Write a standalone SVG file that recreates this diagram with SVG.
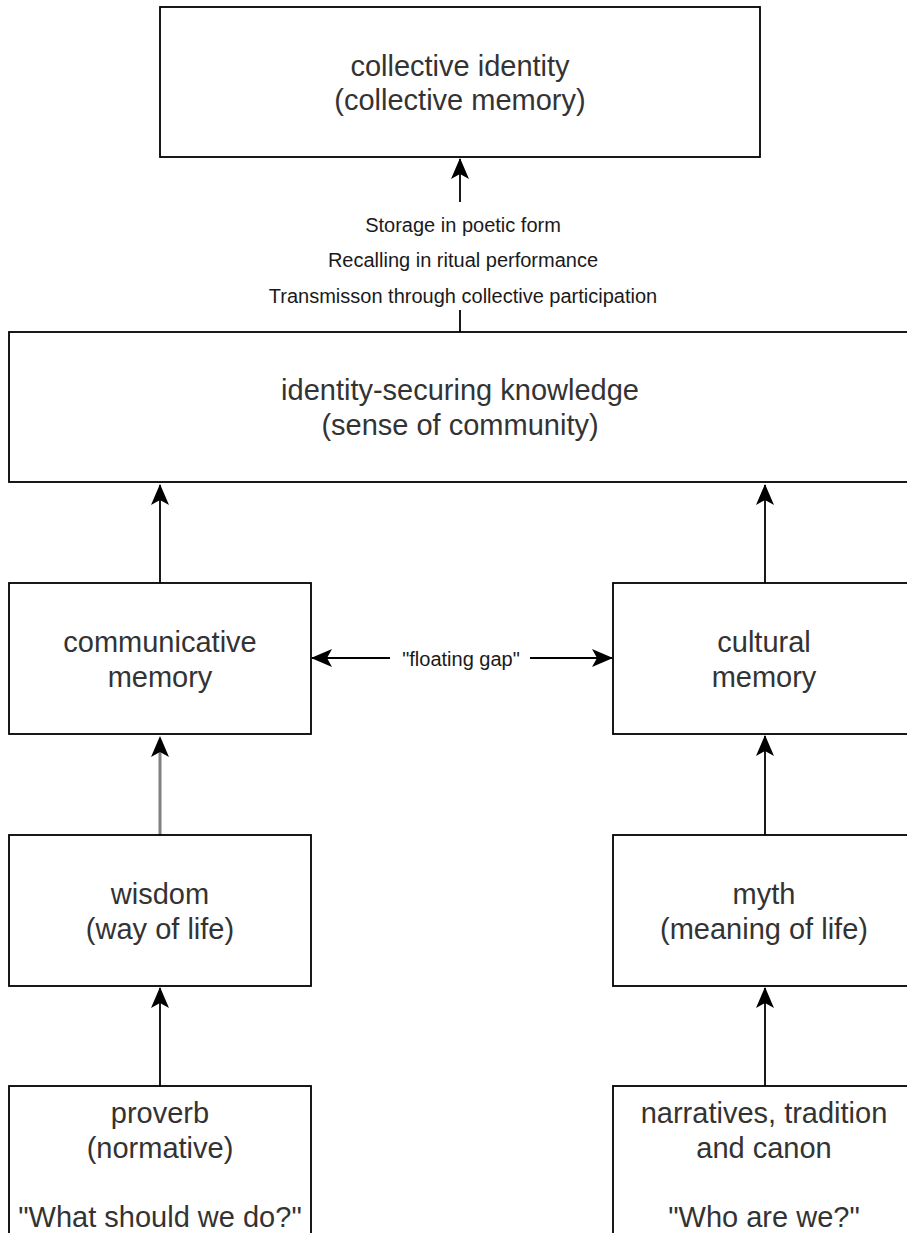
<svg xmlns="http://www.w3.org/2000/svg" width="907" height="1233" viewBox="0 0 907 1233">
  <defs>
    <style>
      .box { fill: #ffffff; stroke: #000000; stroke-width: 1.8; }
      .t { font-family: "Liberation Sans", Arial, sans-serif; font-size: 29px; fill: #333333; text-anchor: middle; }
      .s { font-family: "Liberation Sans", Arial, sans-serif; font-size: 20px; fill: #1a1a1a; text-anchor: middle; }
      .edge { fill: none; stroke: #000000; stroke-width: 1.8; }
      .edge-grey { fill: none; stroke: #808080; stroke-width: 3; }
    </style>
    <marker id="arrow" markerUnits="userSpaceOnUse" markerWidth="22" markerHeight="18" refX="20" refY="9" orient="auto" viewBox="0 0 22 18">
      <path d="M0,0 L21,9 L0,18 L5,9 Z" fill="#000000"/>
    </marker>
    <marker id="arrow-start" markerUnits="userSpaceOnUse" markerWidth="22" markerHeight="18" refX="2" refY="9" orient="auto" viewBox="0 0 22 18">
      <path d="M22,0 L1,9 L22,18 L17,9 Z" fill="#000000"/>
    </marker>
  </defs>
  <rect width="907" height="1233" fill="#ffffff"/>

  <g id="connectors">
    <g id="c-identity">
      <line class="edge" x1="460" y1="333" x2="460" y2="159" marker-end="url(#arrow)"/>
      <rect x="262" y="202" width="400" height="108" fill="#ffffff"/>
      <text class="s" x="463" y="232">Storage in poetic form</text>
      <text class="s" x="463" y="267">Recalling in ritual performance</text>
      <text class="s" x="463" y="303">Transmisson through collective participation</text>
    </g>
    <line id="c-comm-ident" class="edge" x1="160" y1="583" x2="160" y2="485" marker-end="url(#arrow)"/>
    <line id="c-cult-ident" class="edge" x1="765" y1="583" x2="765" y2="485" marker-end="url(#arrow)"/>
    <g id="c-gap">
      <line class="edge" x1="312" y1="658" x2="612" y2="658" marker-start="url(#arrow-start)" marker-end="url(#arrow)"/>
      <rect x="390" y="645" width="140" height="26" fill="#ffffff"/>
      <text class="s" x="461" y="666">"floating gap"</text>
    </g>
    <g id="c-wisdom-comm">
      <line class="edge-grey" x1="160" y1="835" x2="160" y2="745"/>
      <path d="M151,757 L160,736 L169,757 L160,752 Z" fill="#000000"/>
    </g>
    <line id="c-myth-cult" class="edge" x1="765" y1="835" x2="765" y2="736" marker-end="url(#arrow)"/>
    <line id="c-proverb-wisdom" class="edge" x1="160" y1="1086" x2="160" y2="988" marker-end="url(#arrow)"/>
    <line id="c-narr-myth" class="edge" x1="765" y1="1086" x2="765" y2="988" marker-end="url(#arrow)"/>
  </g>

  <g id="n-collective-identity">
    <rect class="box" x="160" y="7" width="600" height="150"/>
    <text class="t" x="460" y="76">collective identity</text>
    <text class="t" x="460" y="110">(collective memory)</text>
  </g>

  <g id="n-identity-securing">
    <rect class="box" x="9" y="332" width="902" height="150"/>
    <text class="t" x="460" y="400">identity-securing knowledge</text>
    <text class="t" x="460" y="435">(sense of community)</text>
  </g>

  <g id="n-communicative">
    <rect class="box" x="9" y="583" width="302" height="151"/>
    <text class="t" x="160" y="652">communicative</text>
    <text class="t" x="160" y="687">memory</text>
  </g>

  <g id="n-cultural">
    <rect class="box" x="613" y="583" width="302" height="151"/>
    <text class="t" x="764" y="652">cultural</text>
    <text class="t" x="764" y="687">memory</text>
  </g>

  <g id="n-wisdom">
    <rect class="box" x="9" y="835" width="302" height="151"/>
    <text class="t" x="160" y="904">wisdom</text>
    <text class="t" x="160" y="939">(way of life)</text>
  </g>

  <g id="n-myth">
    <rect class="box" x="613" y="835" width="302" height="151"/>
    <text class="t" x="764" y="904">myth</text>
    <text class="t" x="764" y="939">(meaning of life)</text>
  </g>

  <g id="n-proverb">
    <rect class="box" x="9" y="1086" width="302" height="160"/>
    <text class="t" x="160" y="1123">proverb</text>
    <text class="t" x="160" y="1158">(normative)</text>
    <text class="t" x="160" y="1227">"What should we do?"</text>
  </g>

  <g id="n-narratives">
    <rect class="box" x="613" y="1086" width="302" height="160"/>
    <text class="t" x="764" y="1123">narratives, tradition</text>
    <text class="t" x="764" y="1158">and canon</text>
    <text class="t" x="764" y="1227">"Who are we?"</text>
  </g>
</svg>
